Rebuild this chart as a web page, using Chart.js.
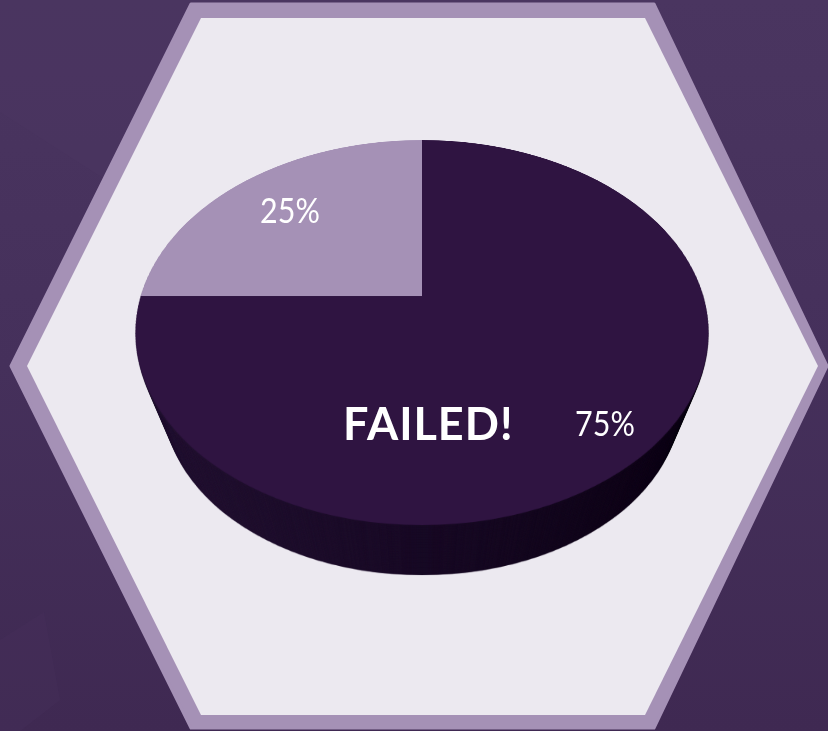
<!DOCTYPE html>
<html>
<head>
<meta charset="utf-8">
<script src="https://cdn.jsdelivr.net/npm/chart.js@4/dist/chart.umd.min.js"></script>
<style>
  html, body { margin:0; padding:0; width:828px; height:731px; overflow:hidden; }
  body { background: linear-gradient(180deg, #4a3560 0%, #45305b 50%, #3f2952 100%); position:relative; }
  #bg { position:absolute; left:0; top:0; }
  #c { position:absolute; left:0; top:0; }
</style>
</head>
<body>
<svg id="bg" width="828" height="731" viewBox="0 0 828 731">
  <polygon points="0,0 260,0 200,240 0,112" fill="#4b3661" opacity="0.6"/>
  <polygon points="0,640 44,612 60,700 20,731 0,731" fill="#45305a" opacity="0.4"/>
  <polygon points="191,4 654,4 827,366 654,728 191,728 11,366" fill="#a591b6" stroke="#a591b6" stroke-width="3" stroke-linejoin="round"/>
  <polygon points="201,18 645,18 818,366 645,715 201,715 27,366" fill="#ece9f0"/>
</svg>
<canvas id="c" width="828" height="731"></canvas>
<script>
// ---- data ----
const categories = ['Failed', 'Passed'];
const values = [75, 25];
const valueLabels = ['75%', '25%'];
const sliceColors = ['#2f1441', '#a591b6'];
const centerTitle = 'FAILED!';

function mk(w, h) { const c = document.createElement('canvas'); c.width = w; c.height = h; return c; }

const perspectivePlugin = {
  id: 'perspective3d',
  afterDatasetsDraw(chart, args, o) {
    const a0 = chart.getDatasetMeta(0).data[0];
    const cx = a0.x, cy = a0.y, R = a0.outerRadius;
    const W = chart.canvas.width, H = chart.canvas.height;
    const snap = mk(W, H); snap.getContext('2d').drawImage(chart.canvas, 0, 0);
    const top = mk(W, H); const tc = top.getContext('2d');
    tc.imageSmoothingEnabled = true;
    const vOf = Y => { const d = Y - o.Y0; return d / (o.B + o.b * d); };
    const y1 = Math.floor(o.Y0 - o.B / (1 + o.b)) - 1;
    const y2 = Math.ceil(o.Y0 + o.B / (1 - o.b)) + 1;
    for (let Y = y1; Y <= y2; Y++) {
      const va = vOf(Y), vb = vOf(Y + 1);
      if (vb < -1.01 || va > 1.01) continue;
      const vm = vOf(Y + 0.5);
      const w = 1 - o.b * vm;
      const s = o.A / (R * w);
      tc.drawImage(snap, 0, cy + R * va, W, R * (vb - va), o.X0 - cx * s, Y, W * s, 1);
    }
    const side = mk(W, H); const sc = side.getContext('2d');
    sc.drawImage(top, 0, 0);
    sc.globalCompositeOperation = 'source-in';
    const g = sc.createLinearGradient(o.X0 - o.A, 0, o.X0 + o.A, 0);
    g.addColorStop(0, '#241333');
    g.addColorStop(0.45, '#1a0b27');
    g.addColorStop(1, '#0e0416');
    sc.fillStyle = g; sc.fillRect(0, 0, W, H);
    const ctx = chart.ctx;
    ctx.save();
    ctx.setTransform(1, 0, 0, 1, 0, 0);
    ctx.clearRect(0, 0, W, H);
    const n = o.steps;
    for (let i = n; i >= 1; i--) {
      const k = 1 - (1 - o.kBottom) * i / n;
      ctx.setTransform(k, 0, 0, k, o.Vx * (1 - k), o.Vy * (1 - k));
      ctx.drawImage(side, 0, 0);
    }
    ctx.setTransform(1, 0, 0, 1, 0, 0);
    ctx.drawImage(top, 0, 0);
    ctx.restore();
    chart.$proj = (u, v) => {
      const w = 1 - o.b * v;
      return { x: o.X0 + o.A * u / w, y: o.Y0 + o.B * v / w };
    };
  },
  afterDraw(chart, args, o) {
    const ctx = chart.ctx;
    const meta = chart.getDatasetMeta(0);
    ctx.save();
    ctx.fillStyle = '#ffffff';
    ctx.textAlign = 'center';
    ctx.textBaseline = 'alphabetic';
    ctx.font = '35px Lato, sans-serif';
    meta.data.forEach((arc, i) => {
      const mid = (arc.startAngle + arc.endAngle) / 2;
      const f = o.labelFrac[i];
      const p = chart.$proj(f[0] * Math.cos(mid), f[1] * Math.sin(mid));
      ctx.save();
      ctx.translate(p.x, p.y + 12);
      ctx.scale(0.87, 1);
      ctx.fillText(valueLabels[i], 0, 0);
      ctx.restore();
    });
    ctx.font = 'bold 45px Lato, sans-serif';
    ctx.letterSpacing = '1px';
    const c = chart.$proj(0.02, 0.61);
    ctx.fillText(centerTitle, c.x, c.y + 16);
    ctx.restore();
  }
};

new Chart(document.getElementById('c'), {
  type: 'pie',
  data: {
    labels: categories,
    datasets: [{ data: values, backgroundColor: sliceColors, borderWidth: 0, hoverOffset: 0 }]
  },
  options: {
    responsive: false,
    animation: false,
    events: [],
    layout: { padding: 10 },
    plugins: {
      legend: { display: false },
      tooltip: { enabled: false },
      perspective3d: {
        X0: 422, Y0: 296, A: 281.3, B: 185.6, b: 0.19,
        Vx: 422, Vy: 1025, kBottom: 0.9, steps: 80,
        labelFrac: [[0.813, 0.863], [0.727, 0.709]]
      }
    }
  },
  plugins: [perspectivePlugin]
});
</script>
</body>
</html>
